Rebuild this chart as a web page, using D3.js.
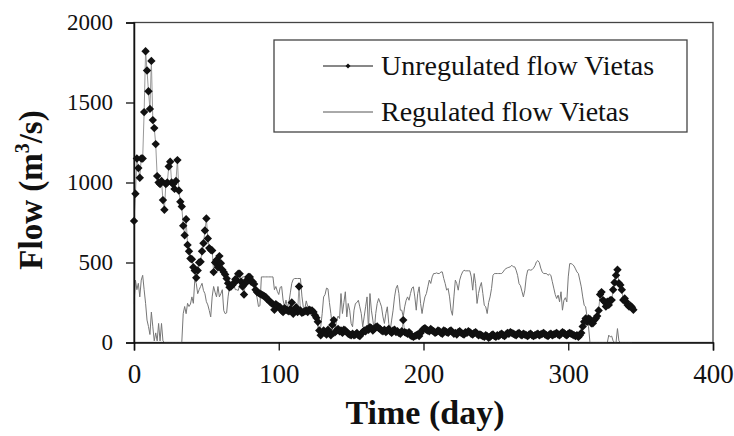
<!DOCTYPE html>
<html>
<head>
<meta charset="utf-8">
<script src="https://cdn.jsdelivr.net/npm/d3@7"></script>
<style>
  body { margin: 0; background: #fff; }
  svg { display: block; font-family: "Liberation Serif", "Times New Roman", serif; }
</style>
</head>
<body>
<svg width="734" height="436"></svg>
<script>
// daily flow, day 0 onwards (m3/s)
var unregulated = [
  760, 930, 1150, 1090, 1030, 1150, 1150, 1440, 1820, 1700,
  1570, 1460, 1760, 1390, 1340, 1240, 1040, 1000, 990, 1010,
  890, 830, 990, 1000, 1100, 1130, 1000, 990, 960, 1010,
  1140, 950, 880, 850, 730, 670, 770, 610, 570, 525,
  520, 470, 450, 405, 450, 500, 505, 570, 620, 700,
  775, 650, 590, 580, 575, 440, 500, 515, 470, 540,
  495, 455, 440, 425, 400, 370, 345, 350, 360, 370,
  395, 390, 430, 430, 380, 350, 300, 370, 390, 410,
  410, 380, 380, 365, 330, 315, 310, 305, 300, 295,
  290, 285, 270, 265, 255, 245, 240, 205, 240, 230,
  225, 220, 200, 190, 215, 205, 200, 195, 210, 250,
  180, 200, 220, 190, 350, 200, 185, 190, 195, 200,
  190, 205, 200, 200, 190, 170, 155, 130, 75, 45,
  60, 75, 60, 50, 80, 65, 45, 110, 140, 65,
  75, 85, 70, 75, 60, 80, 75, 65, 55, 50,
  45, 55, 45, 50, 60, 45, 40, 55, 65, 75,
  70, 85, 80, 95, 90, 75, 85, 95, 100, 90,
  85, 75, 70, 80, 65, 75, 85, 70, 60, 75,
  80, 65, 70, 60, 55, 70, 140, 65, 60, 55,
  65, 45, 40, 35, 40, 45, 50, 40, 60, 75,
  85, 90, 80, 75, 70, 85, 75, 70, 60, 65,
  75, 70, 60, 55, 75, 70, 65, 60, 70, 75,
  65, 55, 60, 50, 65, 70, 60, 55, 50, 65,
  60, 70, 65, 55, 50, 60, 65, 55, 45, 50,
  45, 40, 35, 45, 40, 30, 35, 45, 50, 40,
  35, 45, 40, 50, 55, 45, 40, 50, 60, 55,
  65, 60, 55, 50, 45, 55, 60, 50, 45, 55,
  50, 45, 40, 50, 55, 45, 40, 45, 50, 55,
  45, 50, 55, 60, 50, 45, 40, 50, 55, 45,
  50, 55, 60, 50, 45, 55, 65, 60, 50, 45,
  55, 60, 55, 50, 45, 40, 45, 35, 45, 60,
  100, 130, 150, 130, 150, 145, 120, 120, 140, 150,
  165, 200, 300, 315, 265, 255, 225, 255, 235, 265,
  265, 330, 375, 420, 455, 370, 360, 330, 265, 275,
  255, 235, 225, 230, 220, 205
];
var regulated = [
  240, 390, 330, 370, 285, 390, 420, 330, 245, 140,
  100, 50, 190, 98, 10, 60, 10, 119, 10, 119,
  10, 0, 0, 0, 0, 0, 0, 0, 0, 0,
  0, 0, 0, 0, 180, 225, 180, 245, 225, 240,
  285, 245, 390, 370, 305, 330, 350, 370, 325, 305,
  255, 235, 200, 160, 285, 350, 315, 285, 350, 285,
  305, 330, 200, 180, 185, 285, 350, 370, 390, 360,
  330, 330, 325, 360, 390, 410, 410, 410, 410, 410,
  410, 400, 390, 360, 330, 280, 225, 230, 410, 410,
  410, 410, 410, 410, 410, 410, 410, 330, 350, 320,
  300, 345, 350, 265, 225, 265, 220, 250, 310, 370,
  395, 400, 400, 400, 400, 400, 290, 220, 210, 260,
  225, 210, 200, 180, 170, 150, 140, 100, 35, 100,
  180, 285, 300, 340, 335, 250, 180, 100, 35, 90,
  140, 165, 150, 306, 181, 250, 317, 160, 244, 202,
  119, 98, 202, 244, 250, 264, 223, 181, 98, 160,
  223, 285, 77, 306, 202, 140, 77, 181, 244, 275,
  250, 223, 160, 119, 181, 223, 119, 77, 140, 202,
  285, 338, 358, 306, 202, 202, 160, 223, 264, 285,
  264, 306, 340, 348, 285, 202, 306, 348, 244, 181,
  240, 285, 306, 348, 390, 369, 410, 431, 431, 435,
  431, 431, 441, 441, 400, 368, 327, 338, 285, 202,
  170, 285, 390, 368, 327, 390, 420, 441, 452, 448,
  448, 448, 448, 410, 327, 431, 368, 244, 306, 348,
  375, 306, 233, 223, 181, 250, 285, 338, 420, 431,
  431, 431, 431, 431, 431, 441, 455, 462, 467, 470,
  473, 483, 473, 473, 452, 420, 368, 355, 320, 285,
  327, 410, 452, 455, 452, 455, 465, 480, 504, 512,
  500, 465, 441, 431, 431, 431, 420, 427, 420, 380,
  340, 300, 275, 296, 254, 317, 202, 264, 280, 254,
  410, 493, 493, 488, 478, 460, 441, 431, 390, 348,
  285, 233, 223, 160, 100, 0, 0, 0, 0, 0,
  0, 0, 0, 0, 0, 0, 0, 0, 46, 35,
  40, 10, 0, 0, 87, 10, 0, 0, 0, 0,
  0, 0, 0, 0, 0
];
var xTicks = [0, 100, 200, 300, 400];
var yTicks = [0, 500, 1000, 1500, 2000];
var seriesNames = ["Unregulated flow Vietas", "Regulated flow Vietas"];

var svg = d3.select("svg");
var x = d3.scaleLinear().domain([0, 400]).range([134, 713]);
var y = d3.scaleLinear().domain([0, 2000]).range([342.5, 22.5]);

// plot frame
svg.append("rect")
  .attr("x", x(0)).attr("y", y(2000))
  .attr("width", x(400) - x(0)).attr("height", y(0) - y(2000))
  .attr("fill", "none").attr("stroke", "#444").attr("stroke-width", 1.3);

var line = d3.line().x(function(d, i){ return x(i) }).y(function(d){ return y(d) });

svg.append("path").datum(regulated)
  .attr("d", line).attr("fill", "none")
  .attr("stroke", "#777").attr("stroke-width", 1);

svg.append("path").datum(unregulated)
  .attr("d", line).attr("fill", "none")
  .attr("stroke", "#999").attr("stroke-width", 1);

var diamond = "M0,-4.2L4.2,0L0,4.2L-4.2,0Z";
svg.append("g").selectAll("path")
  .data(unregulated)
  .join("path")
  .attr("d", diamond)
  .attr("transform", function(d, i){ return "translate(" + x(i) + "," + y(d) + ")" })
  .attr("fill", "#111");

// axes
var xAxis = svg.append("g")
  .attr("transform", "translate(0," + y(0) + ")")
  .call(d3.axisBottom(x).tickValues(xTicks).tickSize(8));
var yAxis = svg.append("g")
  .attr("transform", "translate(" + x(0) + ",0)")
  .call(d3.axisLeft(y).tickValues(yTicks).tickFormat(d3.format("d")).tickSize(8).tickPadding(13));

[xAxis, yAxis].forEach(function(a){
  a.select(".domain").attr("stroke", "#111").attr("stroke-width", 1.5);
  a.selectAll(".tick line").attr("stroke", "#111").attr("stroke-width", 1.3);
  a.selectAll(".tick text")
    .attr("font-family", "Liberation Serif")
    .attr("font-size", 27).attr("fill", "#111");
});
xAxis.selectAll(".tick text").attr("y", 40).attr("dy", 0);
yAxis.selectAll(".tick text").attr("font-size", 23);

svg.append("text")
  .attr("x", 425).attr("y", 424)
  .attr("text-anchor", "middle")
  .attr("font-size", 34).attr("font-weight", "bold").attr("fill", "#111")
  .text("Time (day)");

var ylab = svg.append("text")
  .attr("transform", "translate(42,190) rotate(-90)")
  .attr("text-anchor", "middle")
  .attr("font-size", 33).attr("font-weight", "bold").attr("fill", "#111");
ylab.append("tspan").text("Flow (m");
ylab.append("tspan").attr("font-size", 20).attr("dy", -13).text("3");
ylab.append("tspan").attr("dy", 13).text("/s)");

// legend
var legend = svg.append("g");
legend.append("rect")
  .attr("x", 274).attr("y", 40).attr("width", 413).attr("height", 92)
  .attr("fill", "#fff").attr("stroke", "#444").attr("stroke-width", 1.3);

var rows = legend.selectAll("g.row")
  .data(seriesNames)
  .join("g")
  .attr("class", "row")
  .attr("transform", function(d, i){ return "translate(0," + (66 + i * 46) + ")" });

rows.append("line")
  .attr("x1", 323).attr("x2", 373)
  .attr("stroke", function(d, i){ return i == 0 ? "#111" : "#555" })
  .attr("stroke-width", 1);
rows.filter(function(d, i){ return i == 0 })
  .append("path").attr("d", "M0,-2.5L2.5,0L0,2.5L-2.5,0Z")
  .attr("transform", "translate(348,0)").attr("fill", "#111");
rows.append("text")
  .attr("x", 381).attr("y", 9)
  .attr("font-size", 28).attr("fill", "#111")
  .text(function(d){ return d });
</script>
</body>
</html>
